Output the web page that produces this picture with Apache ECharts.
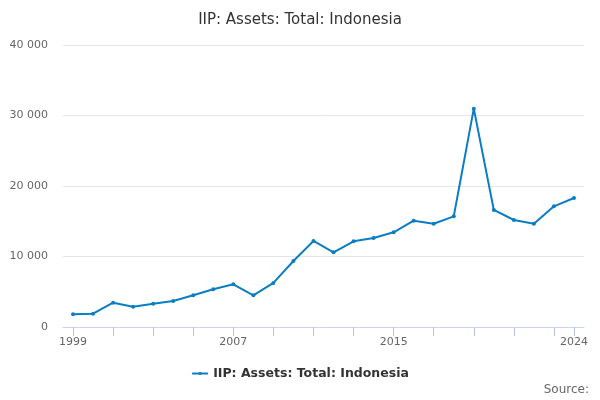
<!DOCTYPE html>
<html><head><meta charset="utf-8">
<script src="https://cdn.jsdelivr.net/npm/echarts@6/dist/echarts.min.js"></script>
<style>html,body{margin:0;padding:0;background:#fff}#c{width:600px;height:400px}</style>
</head><body><div id="c"></div>
<script>
var years = ['1999','2000','2001','2002','2003','2004','2005','2006','2007','2008','2009','2010','2011','2012','2013','2014','2015','2016','2017','2018','2019','2020','2021','2022','2023','2024'];
var assets = [1800,1890,3450,2880,3300,3690,4500,5350,6060,4500,6250,9360,12200,10600,12160,12620,13430,15080,14650,15700,30970,16600,15180,14650,17120,18300];
var seriesName = 'IIP: Assets: Total: Indonesia';
var yTicks = [0,10000,20000,30000,40000];
var labelIdx = [0,8,16,25];

var chart = echarts.init(document.getElementById('c'));
var font = 'DejaVu Sans';
chart.setOption({
  animation:false,
  textStyle:{fontFamily:font},
  title:{text:'IIP: Assets: Total: Indonesia',left:'center',top:8,textStyle:{fontFamily:font,fontSize:15,fontWeight:'normal',color:'#333'}},
  grid:{left:63,right:16,top:45,bottom:73},
  legend:{bottom:15,left:'center',itemWidth:16,itemHeight:4,textStyle:{fontFamily:font,fontSize:12.5,fontWeight:'bold',color:'#333'},data:[seriesName]},
  graphic:[{type:'text',right:11,bottom:4,style:{text:'Source:',fontFamily:font,fontSize:12,fill:'#666'}}],
  xAxis:{type:'category',data:years,boundaryGap:true,
    axisLine:{show:true,lineStyle:{color:'#ccd6eb'}},
    axisTick:{show:true,alignWithLabel:true,length:9,lineStyle:{color:'#b8c4de',width:1},interval:function(i){return i%2===0||i===25;}},
    axisLabel:{show:true,color:'#666',fontSize:11,fontFamily:font,margin:10,interval:function(i){return labelIdx.indexOf(i)>=0;}}
  },
  yAxis:{type:'value',min:0,max:40000,interval:10000,
    axisLine:{show:false},axisTick:{show:false},
    splitLine:{lineStyle:{color:'#e6e6e6'}},
    axisLabel:{color:'#666',fontSize:11,fontFamily:font,margin:15,formatter:function(v){return String(v).replace(/\B(?=(\d{3})+(?!\d))/g,' ');}}
  },
  series:[{name:seriesName,type:'line',data:assets,symbol:'circle',symbolSize:4,
    lineStyle:{color:'#0b7dc3',width:2},itemStyle:{color:'#0b7dc3'}}]
});
</script></body></html>
